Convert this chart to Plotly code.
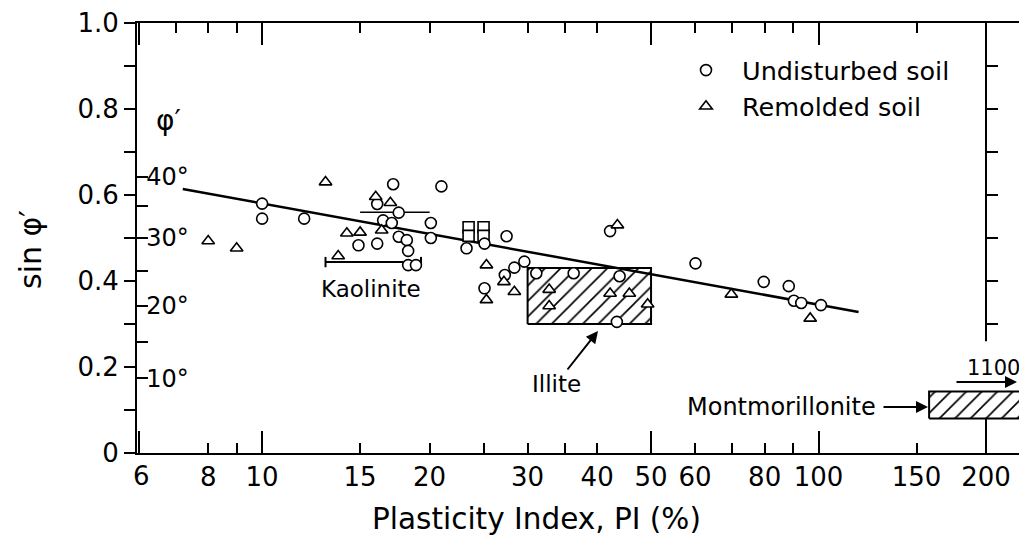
import numpy as np
import plotly.graph_objects as go

# ---------------- data ----------------
und_pi = [10.0, 10.0, 11.9, 14.9, 16.1, 16.1, 16.5, 17.1, 17.2, 17.6, 17.6, 18.2, 18.3, 18.3, 18.9,
          20.1, 20.1, 21.0, 23.3, 25.1, 25.1, 27.3, 27.5, 28.4, 29.6, 31.1, 36.3, 42.2, 43.4, 43.9,
          60.1, 79.7, 88.4, 90.3, 93.1, 101.0]
und_sin = [0.580, 0.545, 0.545, 0.483, 0.579, 0.487, 0.541, 0.535, 0.625, 0.559, 0.503, 0.495, 0.470, 0.437, 0.437,
           0.535, 0.500, 0.620, 0.476, 0.487, 0.383, 0.414, 0.504, 0.431, 0.445, 0.418, 0.418, 0.516, 0.305, 0.411,
           0.441, 0.398, 0.388, 0.354, 0.349, 0.344]

rem_pi = [8.0, 9.0, 13.0, 13.7, 14.2, 15.0, 16.0, 16.4, 17.0, 25.3, 25.3, 27.2, 28.4, 32.8, 32.8,
          42.2, 43.5, 45.7, 49.3, 69.7, 96.6]
rem_sin = [0.493, 0.476, 0.630, 0.458, 0.511, 0.513, 0.596, 0.518, 0.582, 0.437, 0.356, 0.398, 0.375, 0.380, 0.342,
           0.371, 0.530, 0.371, 0.346, 0.369, 0.313]

sq_pi = [23.5, 25.0, 23.5, 25.0]
sq_sin = [0.525, 0.525, 0.505, 0.505]

trend_pi = [7.2, 118.0]
trend_sin = [0.614, 0.328]

illite_pi = [30.0, 50.0]
illite_sin = [0.30, 0.43]

mont_pi = [158.0, 400.0]
mont_sin = [0.08, 0.143]

kaol_pi = [13.0, 19.3]
kaol_sin = 0.444

bar2_pi = [15.0, 20.0]
bar2_sin = 0.56

x_labeled = [6, 8, 10, 15, 20, 30, 40, 50, 60, 80, 100, 150, 200]
x_major = [6, 10, 50, 100, 200]
x_minor = [7, 9, 25, 35, 70, 90]
y_ticks = [0, 0.2, 0.4, 0.6, 0.8, 1.0]
y_text = ["0", "0.2", "0.4", "0.6", "0.8", "1.0"]
y_minor = [0.1, 0.3, 0.5, 0.7, 0.9]
y_right = [0.3, 0.4, 0.5, 0.6, 0.7, 0.8, 0.9]
deg_major = [10, 20, 30, 40]
deg_minor = [15, 25, 35]

# ---------------- layout geometry ----------------
FONT = "DejaVu Sans"
W, H = 1019, 543
ML, MR, MT, MB = 137, 0, 23, 90
PW = W - ML - MR
PH = H - MT - MB
RIGHT_PX = 986
d1 = (RIGHT_PX - ML) / PW
lg0, lg1 = np.log10(6), np.log10(200)
px_per_dec = (RIGHT_PX - ML) / (lg1 - lg0)
lg_end = lg0 + PW / px_per_dec
x_range = [lg0 - 0.003, lg_end]


def px(xp):
    return (xp - ML) / PW


def py(yp):
    return (H - MB - yp) / PH


BLK = "black"
fig = go.Figure()

# Illite box
fig.add_trace(go.Scatter(
    x=[illite_pi[0], illite_pi[1], illite_pi[1], illite_pi[0], illite_pi[0]],
    y=[illite_sin[0], illite_sin[0], illite_sin[1], illite_sin[1], illite_sin[0]],
    mode="lines", fill="toself", fillcolor="white",
    fillpattern=dict(shape="/", fgcolor=BLK, bgcolor="white", size=11, solidity=0.15),
    line=dict(color=BLK, width=2), showlegend=False, hoverinfo="skip"))

# Montmorillonite box (runs past the right frame)
fig.add_trace(go.Scatter(
    x=[mont_pi[0], mont_pi[1], mont_pi[1], mont_pi[0], mont_pi[0]],
    y=[mont_sin[0], mont_sin[0], mont_sin[1], mont_sin[1], mont_sin[0]],
    mode="lines", fill="toself", fillcolor="white",
    fillpattern=dict(shape="/", fgcolor=BLK, bgcolor="white", size=11, solidity=0.15),
    line=dict(color=BLK, width=2), showlegend=False, hoverinfo="skip"))

# trend line
fig.add_trace(go.Scatter(x=trend_pi, y=trend_sin, mode="lines",
                         line=dict(color=BLK, width=2.5), showlegend=False, hoverinfo="skip"))

# kaolinite range bar
cap = 0.012
fig.add_trace(go.Scatter(
    x=[kaol_pi[0], kaol_pi[0], None, kaol_pi[0], kaol_pi[1], None, kaol_pi[1], kaol_pi[1]],
    y=[kaol_sin - cap, kaol_sin + cap, None, kaol_sin, kaol_sin, None, kaol_sin - cap, kaol_sin + cap],
    mode="lines", line=dict(color=BLK, width=2), showlegend=False, hoverinfo="skip"))
# other range bar
fig.add_trace(go.Scatter(x=bar2_pi, y=[bar2_sin, bar2_sin], mode="lines",
                         line=dict(color=BLK, width=1.5), showlegend=False, hoverinfo="skip"))

# squares
fig.add_trace(go.Scatter(x=sq_pi, y=sq_sin, mode="markers",
                         marker=dict(symbol="square", size=11, color="white", line=dict(color=BLK, width=1.6)),
                         showlegend=False, hoverinfo="skip"))

# data
fig.add_trace(go.Scatter(x=und_pi, y=und_sin, mode="markers", name="Undisturbed soil",
                         marker=dict(symbol="circle", size=11, color="white", line=dict(color=BLK, width=1.6))))
fig.add_trace(go.Scatter(x=rem_pi, y=rem_sin, mode="markers", name="Remolded soil",
                         marker=dict(symbol="triangle-up", size=11, color="white", line=dict(color=BLK, width=1.6))))

# invisible traces that instantiate the helper tick axes
for xa, ya in (("x3", "y"), ("x4", "y"), ("x", "y2"), ("x", "y3")):
    fig.add_trace(go.Scatter(x=[10], y=[0.5], xaxis=xa, yaxis=ya, mode="markers",
                             marker=dict(opacity=0), showlegend=False, hoverinfo="skip"))

tickfont = dict(family=FONT, size=26, color=BLK)
tk = dict(tickwidth=2, tickcolor=BLK, showgrid=False, zeroline=False, tickmode="array")
top_short = [v for v in x_labeled + x_minor if v not in x_major]
x_ticktext = ["" if v == 6 else str(v) for v in x_labeled]

fig.update_layout(
    template="none",
    width=W, height=H, margin=dict(l=ML, r=MR, t=MT, b=MB, autoexpand=False),
    paper_bgcolor="white", plot_bgcolor="white",
    font=dict(family=FONT, color=BLK),
    xaxis=dict(type="log", domain=[0, 1], range=x_range, anchor="y",
               showline=True, linecolor=BLK, linewidth=2, mirror=True,
               ticks="inside", ticklen=10, tickvals=x_labeled, ticktext=x_ticktext,
               tickfont=tickfont, automargin=False,
               minor=dict(tickmode="array", tickvals=x_minor, ticks="inside", ticklen=10,
                          tickwidth=2, tickcolor=BLK, showgrid=False), **tk),
    xaxis3=dict(type="log", overlaying="x", range=x_range, anchor="y", side="bottom", showline=False,
                ticks="inside", ticklen=22, tickvals=x_major, showticklabels=False, automargin=False, **tk),
    xaxis4=dict(type="log", overlaying="x", range=x_range, anchor="y", side="top", showline=False,
                ticks="inside", ticklen=22, tickvals=x_major, showticklabels=False, automargin=False,
                minor=dict(tickmode="array", tickvals=top_short, ticks="inside", ticklen=10,
                           tickwidth=2, tickcolor=BLK, showgrid=False), **tk),
    yaxis=dict(range=[0, 1], domain=[0, 1], anchor="x",
               showline=True, linecolor=BLK, linewidth=2,
               ticks="outside", ticklen=11, tickvals=y_ticks, ticktext=y_text, tickfont=tickfont,
               automargin=False,
               minor=dict(tickmode="array", tickvals=y_minor, ticks="outside", ticklen=11,
                          tickwidth=2, tickcolor=BLK, showgrid=False), **tk),
    yaxis2=dict(range=[0, 1], overlaying="y", side="right", anchor="free", position=d1,
                ticks="outside", ticklen=11, tickvals=y_right, showticklabels=False,
                showline=False, automargin=False, **tk),
    yaxis3=dict(range=[0, 1], overlaying="y", side="left", anchor="x",
                ticks="inside", ticklen=11, tickvals=[np.sin(np.radians(d)) for d in deg_major],
                ticktext=[f"{d}°" for d in deg_major], ticklabelposition="inside",
                tickfont=dict(family=FONT, size=24, color=BLK),
                showline=False, automargin=False,
                minor=dict(tickmode="array", tickvals=[np.sin(np.radians(d)) for d in deg_minor],
                           ticks="inside", ticklen=11, tickwidth=2, tickcolor=BLK, showgrid=False), **tk),
    legend=dict(x=px(670), y=py(47), xanchor="left", yanchor="top",
                font=dict(family=FONT, size=25.5, color=BLK), itemwidth=62,
                bgcolor="rgba(0,0,0,0)", borderwidth=0),
    showlegend=True,
)

# right frame line, broken where the montmorillonite label sits
for y0, y1 in ((0, mont_sin[0]), (0.26, 1.0)):
    fig.add_shape(type="line", xref="paper", yref="y", x0=d1, x1=d1, y0=y0, y1=y1,
                  line=dict(color=BLK, width=2), layer="above")


def txt(s, xp, yp, size, **kw):
    d = dict(text=s, xref="paper", yref="paper", x=px(xp), y=py(yp), showarrow=False,
             xanchor="center", yanchor="middle", font=dict(family=FONT, size=size, color=BLK))
    d.update(kw)
    return d


ann = [
    txt("6", 141, 476, 26),
    txt("Plasticity Index, PI (%)", 536, 519, 29.5),
    txt("sin φ′", 30, 250, 30, textangle=-90),
    txt("φ′", 168, 121, 28),
    txt("Kaolinite", 371, 289, 23),
    txt("Illite", 598, 331, 23, showarrow=True, ax=-42, ay=53, arrowhead=2, arrowsize=1.2,
        arrowwidth=2, arrowcolor=BLK),
    txt("Montmorillonite", 878, 407, 24, xanchor="right"),
    txt("", 928, 407, 20, showarrow=True, ax=-46, ay=0, arrowhead=2, arrowsize=1.2,
        arrowwidth=2, arrowcolor=BLK),
    txt("1100", 965, 368, 21, xanchor="left"),
    txt("", 1017, 382, 20, showarrow=True, ax=-62, ay=0, arrowhead=2, arrowsize=1.2,
        arrowwidth=2, arrowcolor=BLK),
]
fig.update_layout(annotations=ann)

fig.write_html("out.html", config={"displayModeBar": False},
               post_script="document.body.style.margin='0px';")
